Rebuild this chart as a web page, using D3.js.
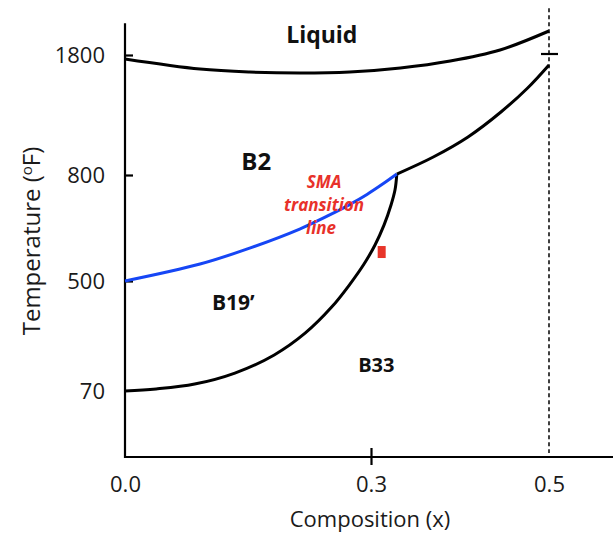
<html>
<head>
<script src="https://d3js.org/d3.v7.min.js"></script>
<style>
  body { margin: 0; background: #fff; }
  text { font-family: "Open Sans", sans-serif; }
</style>
</head>
<body onload='init()'>
<svg width=613 height=533></svg>
<script>
// tick values
var xTicks = [0.0, 0.3, 0.5];
var yTicks = [70, 500, 800, 1800];

// phase boundaries, [composition, temperature]
var liquidus = [[0,1767],[0.0915,1683],[0.152,1658],[0.213,1650],[0.274,1658],[0.333,1692],[0.389,1750],[0.445,1842],[0.5,2000]];
var solvus = [[0.329,808],[0.370,950],[0.409,1117],[0.446,1325],[0.476,1525],[0.5,1717]];
var smaLine = [[0,500],[0.0915,548],[0.152,593],[0.213,647],[0.254,692],[0.2744,717],[0.2951,745],[0.3135,775],[0.329,808]];
var b19Line = [[0,70],[0.038,78],[0.085,97],[0.134,140],[0.182,211],[0.22,297],[0.252,398],[0.2744,488],[0.2915,548],[0.3045,602],[0.3146,658],[0.3225,715],[0.327,758],[0.329,808]];
var marker = [0.312, 582];
var eqLimit = 0.5;

var phases = [
  {name: "Liquid", x: 0.24, t: 1900, size: 23},
  {name: "B2", x: 0.16, t: 842, size: 24},
  {name: "B19\u2019", x: 0.132, t: 387, size: 21},
  {name: "B33", x: 0.306, t: 144, size: 20}
];

function init() {
  var svg = d3.select("svg");
  var x = d3.scaleLinear().domain([0, 0.3, 0.5]).range([125, 371, 549]);
  var y = d3.scaleLinear().domain([70, 500, 800, 1800]).range([391, 281, 175, 55]);
  var base = 457;

  var line = d3.line()
    .x(function(d) { return x(d[0]); })
    .y(function(d) { return y(d[1]); })
    .curve(d3.curveCatmullRom.alpha(0.5));

  // dashed limit at x = 0.5
  svg.append("line")
    .attr("x1", x(eqLimit)).attr("x2", x(eqLimit))
    .attr("y1", y(2190)).attr("y2", base - 4)
    .attr("stroke", "#111").attr("stroke-width", 1.6)
    .attr("stroke-dasharray", "4,3");

  // axes lines
  svg.append("line").attr("x1", x(0)).attr("x2", x(0))
    .attr("y1", y(2065)).attr("y2", base + 1)
    .attr("stroke", "#000").attr("stroke-width", 2.2);
  svg.append("line").attr("x1", x(0) - 1).attr("x2", 613)
    .attr("y1", base).attr("y2", base)
    .attr("stroke", "#000").attr("stroke-width", 2.2);

  var yAxis = svg.append("g")
    .attr("transform", "translate(" + x(0) + ",0)")
    .call(d3.axisLeft(y).tickValues(yTicks).tickSize(8).tickPadding(12).tickFormat(d3.format("d")));
  yAxis.select(".domain").remove();
  yAxis.selectAll(".tick line").attr("x2", 8).attr("stroke-width", 2.2);
  yAxis.selectAll(".tick line").filter(function(d) { return d == 70; }).attr("x2", 0);
  yAxis.selectAll("text").style("font-size", "22px").attr("fill", "#1a1a1a");

  var xAxis = svg.append("g")
    .attr("transform", "translate(0," + base + ")")
    .call(d3.axisBottom(x).tickValues(xTicks).tickSize(8).tickPadding(11).tickFormat(d3.format(".1f")));
  xAxis.select(".domain").remove();
  xAxis.selectAll(".tick line").attr("y2", 8).attr("y1", -9).attr("stroke-width", 2.2)
    .attr("opacity", function(d) { return d == 0.3 ? 1 : 0; });
  xAxis.selectAll("text").style("font-size", "22px").attr("fill", "#1a1a1a");

  // 1800 mark on the x = 0.5 line
  svg.append("line")
    .attr("x1", x(eqLimit) - 8).attr("x2", x(eqLimit) + 9)
    .attr("y1", y(1800) - 1).attr("y2", y(1800) - 1)
    .attr("stroke", "#000").attr("stroke-width", 2.2);

  // boundaries
  [liquidus, solvus, b19Line].forEach(function(d) {
    svg.append("path").datum(d).attr("d", line)
      .attr("fill", "none").attr("stroke", "#000").attr("stroke-width", 3);
  });
  svg.append("path").datum(smaLine).attr("d", line)
    .attr("fill", "none").attr("stroke", "#1646f5").attr("stroke-width", 3);

  svg.append("rect")
    .attr("x", x(marker[0]) - 4).attr("y", y(marker[1]) - 6)
    .attr("width", 8).attr("height", 12)
    .attr("fill", "#e8352a");

  // phase names
  svg.selectAll(".phase").data(phases).enter().append("text")
    .attr("x", function(d) { return x(d.x); })
    .attr("y", function(d) { return y(d.t); })
    .attr("text-anchor", "middle")
    .style("font-weight", "bold")
    .style("font-size", function(d) { return d.size + "px"; })
    .attr("fill", "#111")
    .text(function(d) { return d.name; });

  var sma = svg.append("text")
    .attr("x", 324).attr("y", 188)
    .attr("text-anchor", "middle")
    .style("font-weight", "bold").style("font-style", "italic").style("font-size", "17px")
    .attr("fill", "#e8312a");
  ["SMA", "transition", "line"].forEach(function(s, i) {
    sma.append("tspan").attr("x", i == 2 ? 321 : 324).attr("dy", i == 0 ? 0 : 23).text(s);
  });

  // axis titles
  svg.append("text")
    .attr("x", 370).attr("y", 527)
    .attr("text-anchor", "middle")
    .style("font-size", "22px").attr("fill", "#1a1a1a")
    .text("Composition (x)");

  var yl = svg.append("text")
    .attr("transform", "translate(40,241) rotate(-90)")
    .attr("text-anchor", "middle")
    .style("font-size", "24px").attr("fill", "#1a1a1a");
  yl.append("tspan").text("Temperature (");
  yl.append("tspan").attr("dy", -8).style("font-size", "15px").text("o");
  yl.append("tspan").attr("dy", 8).text("F)");
}
</script>
</body>
</html>
